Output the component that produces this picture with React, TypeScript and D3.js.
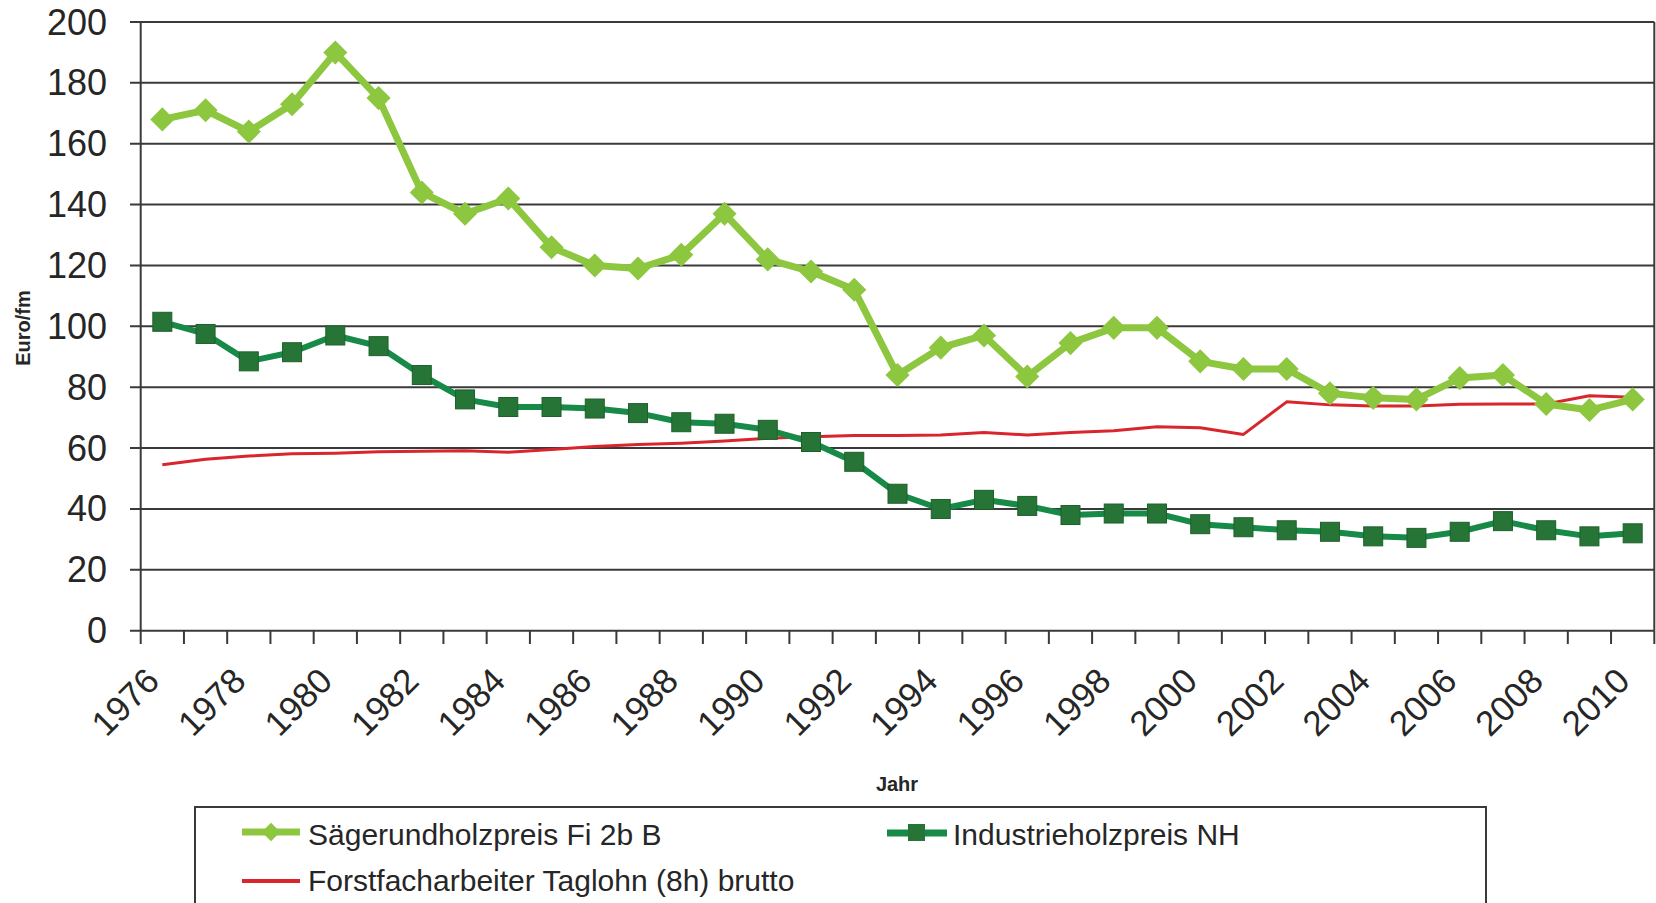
import React from "react";
import * as d3 from "d3";

const years = [
  "1976","1977","1978","1979","1980","1981","1982","1983","1984","1985",
  "1986","1987","1988","1989","1990","1991","1992","1993","1994","1995",
  "1996","1997","1998","1999","2000","2001","2002","2003","2004","2005",
  "2006","2007","2008","2009","2010",
];

const sawlogPrice = [
  168, 171, 164, 173, 190, 175, 144, 137, 142, 126,
  120, 119, 123.5, 137, 122, 118, 112, 84, 93, 97,
  83.5, 94.5, 99.5, 99.5, 88.5, 86, 86, 78, 76.5, 76,
  83, 84, 74.5, 72.5, 76,
];

const industrialPrice = [
  101.5, 97.5, 88.5, 91.5, 97, 93.5, 84, 76, 73.5, 73.5,
  73, 71.5, 68.5, 68, 66, 62, 55.5, 45, 40, 43,
  41, 38, 38.5, 38.5, 35, 34, 33, 32.5, 31, 30.5,
  32.5, 36, 33, 31, 32,
];

const dailyWage = [
  54.5, 56.3, 57.4, 58.1, 58.3, 58.8, 59, 59.1, 58.6, 59.5,
  60.5, 61.2, 61.6, 62.3, 63.2, 63.7, 64.1, 64.1, 64.3, 65.1,
  64.3, 65.1, 65.7, 67, 66.7, 64.5, 75.2, 74.2, 73.8, 73.8,
  74.4, 74.5, 74.5, 77.2, 76.7,
];

const yTicks = [0, 20, 40, 60, 80, 100, 120, 140, 160, 180, 200];
const xLabelYears = ["1976","1978","1980","1982","1984","1986","1988","1990","1992","1994","1996","1998","2000","2002","2004","2006","2008","2010"];

const seriesNames = [
  "Sägerundholzpreis Fi 2b B",
  "Industrieholzpreis NH",
  "Forstfacharbeiter Taglohn (8h) brutto",
];

const W = 1656;
const H = 903;
const L = 140.7;
const R = 1654.3;
const T = 22;
const B = 630.7;

const FONT = "'Liberation Sans', Arial, Helvetica, sans-serif";
const TEXT = "#262626";
const GRID = "#3a3a3a";
const LIGHT = "#8dc63f";
const DARK_LINE = "#178a48";
const DARK_MARK = "#267536";
const RED = "#d8262c";

export default function App() {
  const x = d3.scaleBand<string>().domain(years).range([L, R]).padding(0);
  const y = d3.scaleLinear().domain([0, 200]).range([B, T]);
  const cx = (yr: string) => (x(yr) as number) + x.bandwidth() / 2;

  const line = d3
    .line<number>()
    .x((_, i) => cx(years[i]))
    .y((d) => y(d));

  const boundaries = years.map((yr) => x(yr) as number).concat([R]);
  const diamond = d3.symbol().type(d3.symbolDiamond2).size(370)();
  const legendDiamond = d3.symbol().type(d3.symbolDiamond2).size(220)();

  return (
    <div style={{ position: "absolute", left: 0, top: 0 }}>
      <svg width={W} height={H} style={{ display: "block", background: "#fff" }}>
        {yTicks.map((t) => (
          <g key={t}>
            <line x1={130} x2={R} y1={y(t)} y2={y(t)} stroke={GRID} strokeWidth={2} />
            <text
              x={107}
              y={y(t)}
              textAnchor="end"
              dominantBaseline="central"
              fontFamily={FONT}
              fontSize={36}
              fill={TEXT}
            >
              {t}
            </text>
          </g>
        ))}
        <line x1={L} x2={L} y1={T} y2={B} stroke={GRID} strokeWidth={2} />
        <line x1={R} x2={R} y1={T} y2={B} stroke={GRID} strokeWidth={2} />
        {boundaries.map((bx, i) => (
          <line key={i} x1={bx} x2={bx} y1={B} y2={644} stroke={GRID} strokeWidth={2} />
        ))}
        {xLabelYears.map((yr) => (
          <text
            key={yr}
            transform={`translate(${cx(yr) - 1},${683}) rotate(-45)`}
            textAnchor="end"
            fontFamily={FONT}
            fontSize={35}
            fill={TEXT}
          >
            {yr}
          </text>
        ))}
        <text
          transform={`translate(30,328) rotate(-90)`}
          textAnchor="middle"
          fontFamily={FONT}
          fontWeight="bold"
          fontSize={20}
          fill={TEXT}
        >
          Euro/fm
        </text>
        <text x={897} y={791} textAnchor="middle" fontFamily={FONT} fontWeight="bold" fontSize={20} fill={TEXT}>
          Jahr
        </text>

        <path d={line(dailyWage) || ""} fill="none" stroke={RED} strokeWidth={3} strokeLinejoin="round" />
        <path d={line(industrialPrice) || ""} fill="none" stroke={DARK_LINE} strokeWidth={6} strokeLinejoin="round" />
        {industrialPrice.map((v, i) => (
          <rect
            key={i}
            x={cx(years[i]) - 9.5}
            y={y(v) - 9.5}
            width={19}
            height={19}
            fill={DARK_MARK}
            stroke="#1f5f2c"
            strokeWidth={1}
          />
        ))}
        <path d={line(sawlogPrice) || ""} fill="none" stroke={LIGHT} strokeWidth={7} strokeLinejoin="round" />
        {sawlogPrice.map((v, i) => (
          <path key={i} d={diamond || ""} transform={`translate(${cx(years[i])},${y(v)})`} fill={LIGHT} />
        ))}

        <rect x={195} y={807} width={1291} height={110} fill="#fff" stroke="#3a3a3a" strokeWidth={2} />
        <line x1={242} x2={300} y1={832} y2={832} stroke={LIGHT} strokeWidth={7} />
        <path d={legendDiamond || ""} transform="translate(271,832)" fill={LIGHT} />
        <text x={308} y={845} fontFamily={FONT} fontSize={30} fill={TEXT}>
          {seriesNames[0]}
        </text>
        <line x1={887} x2={947} y1={833} y2={833} stroke={DARK_LINE} strokeWidth={7} />
        <rect x={908} y={824} width={17} height={17} fill={DARK_MARK} />
        <text x={953} y={845} fontFamily={FONT} fontSize={30} fill={TEXT}>
          {seriesNames[1]}
        </text>
        <line x1={242} x2={300} y1={881} y2={881} stroke={RED} strokeWidth={4} />
        <text x={308} y={891} fontFamily={FONT} fontSize={30} fill={TEXT}>
          {seriesNames[2]}
        </text>
      </svg>
    </div>
  );
}
